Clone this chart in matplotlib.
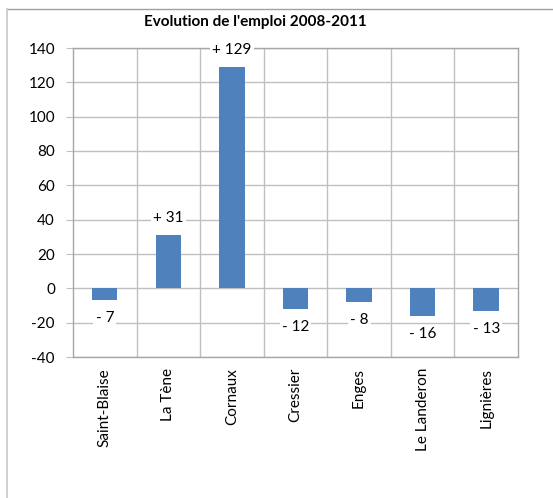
import matplotlib
matplotlib.use("Agg")
import matplotlib.pyplot as plt
from matplotlib.lines import Line2D

# data
communes = ["Saint-Blaise", "La Tène", "Cornaux", "Cressier", "Enges", "Le Landeron", "Lignières"]
evolution = [-7, 31, 129, -12, -8, -16, -13]
labels = ["- 7", "+ 31", "+ 129", "- 12", "- 8", "- 16", "- 13"]
yticks = [-40, -20, 0, 20, 40, 60, 80, 100, 120, 140]

plt.rcParams['font.family'] = ['Lato', 'DejaVu Sans']
plt.rcParams['axes.unicode_minus'] = False

fig = plt.figure(figsize=(5.53, 4.98), dpi=100)
ax = fig.add_axes([73/553, 1 - 357/498, 445/553, 309/498])

grid_col = "#BFBFBF"
x = list(range(len(communes)))
ax.bar(x, evolution, width=0.4, color="#4F81BD", zorder=3)

for xi, v, lab in zip(x, evolution, labels):
    off = 12 if v > 0 else -13
    ax.annotate(lab, (xi, v), xytext=(0, off), textcoords="offset points",
                ha="center", va="center", fontsize=11, zorder=4,
                bbox=dict(boxstyle="square,pad=0.15", fc="white", ec="none"))

ax.set_xlim(-0.5, len(communes) - 0.5)
ax.set_ylim(-40, 140)
ax.set_yticks(yticks)
ax.set_xticks(x)
ax.set_xticklabels(communes, rotation=90, fontsize=11)
ax.tick_params(axis="x", length=0, pad=8)
ax.tick_params(axis="y", length=5, color=grid_col, labelsize=11, pad=8)

for yv in yticks:
    ax.axhline(yv, color=grid_col, lw=1, zorder=1)
for xv in range(len(communes) - 1):
    ax.axvline(xv + 0.5, color=grid_col, lw=1, zorder=1)
for s in ax.spines.values():
    s.set_color("#A6A6A6")
    s.set_linewidth(1)

fig.text(255/553, 1 - 22/498, "Evolution de l'emploi 2008-2011", fontsize=11,
         fontweight="bold", ha="center", va="center")

# chart frame
fig.add_artist(Line2D([7/553, 1], [1 - 9.5/498, 1 - 9.5/498], color="#A0A0A0", lw=1))
fig.add_artist(Line2D([7/553, 7/553], [0, 1 - 9.5/498], color="#C8C8C8", lw=1.2))

fig.savefig("out.png", dpi=100)
